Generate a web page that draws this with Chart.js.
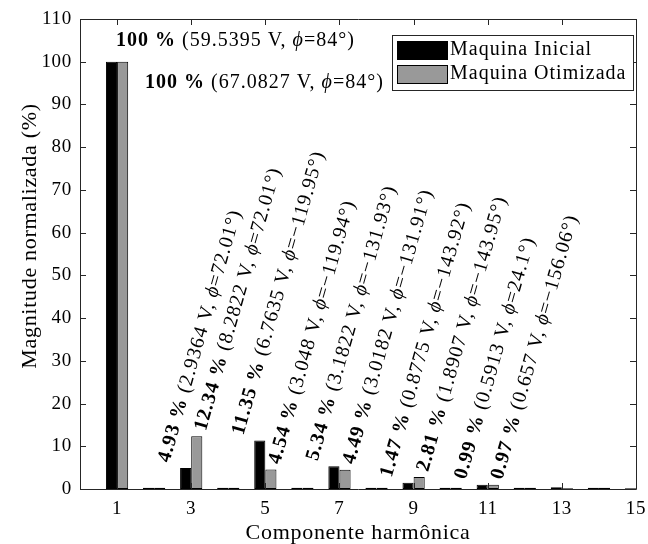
<!DOCTYPE html>
<html>
<head>
<meta charset="utf-8">
<title>Componente harmônica</title>
<script src="https://cdn.jsdelivr.net/npm/chart.js@4.4.1/dist/chart.umd.min.js"></script>
<style>
  html, body { margin: 0; padding: 0; background: #fff; }
  #wrap { width: 648px; height: 544px; position: relative; }
</style>
</head>
<body>
<div id="wrap"><canvas id="harmChart"></canvas></div>
<script>
// Harmonic spectrum: initial vs optimized machine (normalized to fundamental)
const harmonics    = [1, 2, 3, 4, 5, 6, 7, 8, 9, 10, 11, 12, 13, 14, 15];
const magInicial   = [100, 0.3, 4.93, 0.3, 11.35, 0.3, 5.34, 0.3, 1.47, 0.3, 0.99, 0.3, 0.4, 0.3, 0.2];
const magOtimizada = [100, 0.3, 12.34, 0.3, 4.54, 0.3, 4.49, 0.3, 2.81, 0.3, 0.97, 0.3, 0.2, 0.3, 0.3];
const xTicks = [1, 3, 5, 7, 9, 11, 13, 15];
const yTicks = [0, 10, 20, 30, 40, 50, 60, 70, 80, 90, 100, 110];

// annotated harmonics (voltage and phase of each component)
const annHarm = [1, 3, 5, 7, 9, 11];
const voltIni = [59.5395, 2.9364, 6.7635, 3.1822, 0.8775, 0.5913];
const phiIni  = [84, 72.01, -119.95, -131.93, -143.92, 24.1];
const voltOti = [67.0827, 8.2822, 3.048, 3.0182, 1.8907, 0.657];
const phiOti  = [84, 72.01, -119.94, -131.91, -143.95, -156.06];

const FF = '"Liberation Serif", "Times New Roman", serif';
const axisCol = '#262626';
const fReg  = '20px ' + FF;
const fBold = 'bold 20px ' + FF;
const fIt   = 'italic 20px ' + FF;
const spacing = '1px';

const fmtPct = v => String(Number(v.toFixed(2)));
const fmtPhi = p => (p < 0 ? '\u2212' + Math.abs(p) : String(p));

function labelParts(pct, volt, phi) {
  return [
    { t: fmtPct(pct) + ' %', f: fBold },
    { t: ' (' + volt + ' V, ', f: fReg },
    { t: '\u03D5', f: fIt },
    { t: '=' + fmtPhi(phi) + '\u00B0)', f: fReg }
  ];
}

function drawRich(ctx, parts, x, y, angle, baseline) {
  ctx.save();
  ctx.translate(x, y);
  ctx.rotate(angle);
  ctx.textAlign = 'left';
  ctx.textBaseline = baseline;
  ctx.letterSpacing = spacing;
  ctx.fillStyle = '#000';
  let cx = 0;
  parts.forEach(p => {
    ctx.font = p.f;
    ctx.fillText(p.t, cx, 0);
    cx += ctx.measureText(p.t).width;
  });
  ctx.restore();
}

// wider glyph spacing for the axis texts (closer to the LaTeX look)
const textSpacing = {
  id: 'textSpacing',
  beforeDraw(chart) { chart.ctx.letterSpacing = '0.7px'; }
};

// y axis title, drawn by hand so it can sit a little above the middle
const yTitle = {
  id: 'yTitle',
  afterDraw(chart) {
    const { ctx } = chart;
    ctx.save();
    ctx.translate(30, 236);
    ctx.rotate(-Math.PI / 2);
    ctx.font = '22px ' + FF;
    ctx.letterSpacing = '0.7px';
    ctx.fillStyle = '#000';
    ctx.textAlign = 'center';
    ctx.textBaseline = 'middle';
    ctx.fillText('Magnitude normalizada (%)', 0, 0);
    ctx.restore();
  }
};

// box + inward ticks like a MATLAB axes
const frameTicks = {
  id: 'frameTicks',
  afterDatasetsDraw(chart) {
    const { ctx, chartArea: a, scales: { x, y } } = chart;
    const tl = 6;
    ctx.save();
    ctx.strokeStyle = axisCol;
    ctx.lineWidth = 1;
    ctx.beginPath();
    ctx.rect(Math.round(a.left) + 0.5, Math.round(a.top) + 0.5, Math.round(a.right - a.left), Math.round(a.bottom - a.top));
    xTicks.forEach(v => {
      const px = Math.round(x.getPixelForValue(v)) + 0.5;
      ctx.moveTo(px, a.bottom); ctx.lineTo(px, a.bottom - tl);
      ctx.moveTo(px, a.top); ctx.lineTo(px, a.top + tl);
    });
    yTicks.forEach(v => {
      const py = Math.round(y.getPixelForValue(v)) + 0.5;
      ctx.moveTo(a.left, py); ctx.lineTo(a.left + tl, py);
      ctx.moveTo(a.right, py); ctx.lineTo(a.right - tl, py);
    });
    ctx.stroke();
    ctx.restore();
  }
};

// value labels over the bars
const barLabels = {
  id: 'barLabels',
  afterDatasetsDraw(chart) {
    const { ctx, scales: { x, y } } = chart;
    const rot = -74 * Math.PI / 180;
    annHarm.forEach((h, i) => {
      const vi = magInicial[h - 1], vo = magOtimizada[h - 1];
      const px = x.getPixelForValue(h);
      if (h === 1) {
        drawRich(ctx, labelParts(vi, voltIni[i], phiIni[i]), px - 1, y.getPixelForValue(100) - 21, 0, 'middle');
        drawRich(ctx, labelParts(vo, voltOti[i], phiOti[i]), px + 28, y.getPixelForValue(100) + 21, 0, 'middle');
      } else {
        drawRich(ctx, labelParts(vi, voltIni[i], phiIni[i]), px - 22, y.getPixelForValue(vi) - 4.7, rot, 'alphabetic');
        drawRich(ctx, labelParts(vo, voltOti[i], phiOti[i]), px + 14.5, y.getPixelForValue(vo) - 4.7, rot, 'alphabetic');
      }
    });
  }
};

// boxed legend in the upper right corner
const boxLegend = {
  id: 'boxLegend',
  afterDraw(chart) {
    const { ctx, chartArea: a } = chart;
    const w = 241, h = 55;
    const L = a.right - 3 - w, T = a.top + 16;
    ctx.save();
    ctx.fillStyle = '#fff';
    ctx.fillRect(L, T, w, h);
    ctx.strokeStyle = axisCol;
    ctx.lineWidth = 1;
    ctx.strokeRect(L + 0.5, T + 0.5, w, h);
    chart.data.datasets.forEach((ds, i) => {
      const ry = T + 6 + i * 24;
      ctx.fillStyle = ds.backgroundColor;
      ctx.fillRect(L + 5, ry, 50, 18);
      ctx.strokeStyle = '#000';
      ctx.strokeRect(L + 5.5, ry + 0.5, 50, 18);
      ctx.fillStyle = '#000';
      ctx.font = fReg;
      ctx.letterSpacing = spacing;
      ctx.textAlign = 'left';
      ctx.textBaseline = 'middle';
      ctx.fillText(ds.label, L + 58, ry + 9);
    });
    ctx.restore();
  }
};

new Chart(document.getElementById('harmChart'), {
  type: 'bar',
  data: {
    datasets: [
      {
        label: 'Maquina Inicial',
        data: harmonics.map((h, i) => ({ x: h, y: magInicial[i] })),
        backgroundColor: '#000000', borderColor: '#000000', borderWidth: 1, borderSkipped: false
      },
      {
        label: 'Maquina Otimizada',
        data: harmonics.map((h, i) => ({ x: h, y: magOtimizada[i] })),
        backgroundColor: '#999999', borderColor: '#000000', borderWidth: 1, borderSkipped: false
      }
    ]
  },
  options: {
    responsive: true, maintainAspectRatio: false, animation: false,
    categoryPercentage: 0.6, barPercentage: 1,
    layout: { padding: { top: 19, right: 12, left: 0, bottom: 0 } },
    plugins: { legend: { display: false }, tooltip: { enabled: false } },
    scales: {
      x: {
        type: 'linear', min: 0, max: 15, offset: false,
        grid: { display: false, drawTicks: false }, border: { display: false },
        afterBuildTicks: s => { s.ticks = xTicks.map(v => ({ value: v })); },
        afterFit: s => { s.height = 55; s.paddingLeft = 0; s.paddingRight = 0; },
        ticks: { color: '#000', padding: 9, font: { family: FF, size: 19 } },
        title: { display: true, text: 'Componente harmônica', color: '#000',
                 font: { family: FF, size: 22, lineHeight: 1 }, padding: { top: 0, bottom: 0 } }
      },
      y: {
        min: 0, max: 110,
        grid: { display: false, drawTicks: false }, border: { display: false },
        afterBuildTicks: s => { s.ticks = yTicks.map(v => ({ value: v })); },
        afterFit: s => { s.width = 80; s.paddingTop = 0; s.paddingBottom = 0; },
        ticks: { color: '#000', padding: 8, font: { family: FF, size: 19 } },
        title: { display: false }
      }
    }
  },
  plugins: [textSpacing, frameTicks, barLabels, boxLegend, yTitle]
});
</script>
</body>
</html>
